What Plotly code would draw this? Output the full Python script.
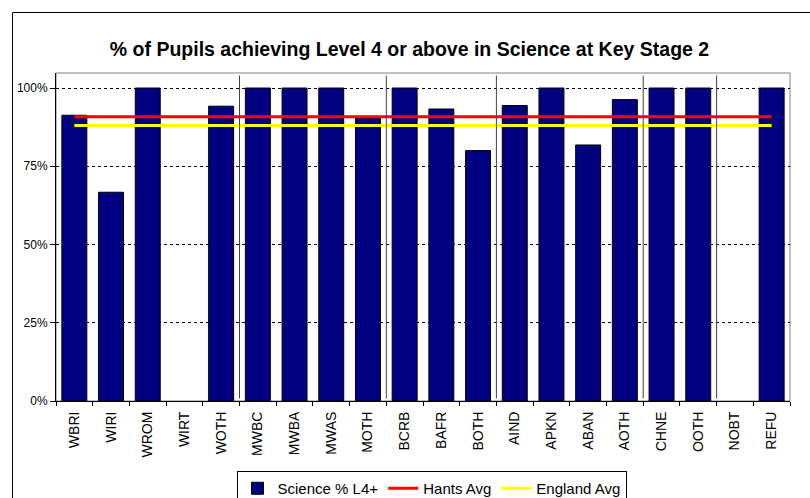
import plotly.graph_objects as go

categories = ["WBRI", "WIRI", "WROM", "WIRT", "WOTH", "MWBC", "MWBA", "MWAS", "MOTH",
              "BCRB", "BAFR", "BOTH", "AIND", "APKN", "ABAN", "AOTH", "CHNE", "OOTH",
              "NOBT", "REFU"]
science = [91.3, 66.7, 100, 0, 94.2, 100, 100, 100, 90.5,
           100, 93.3, 80.0, 94.4, 100, 81.8, 96.3, 100, 100,
           0, 100]
hants_avg = [90.8] * len(categories)
england_avg = [88.0] * len(categories)
group_breaks = [4.5, 8.5, 11.5, 15.5, 17.5]
y_ticks = [0, 25, 50, 75, 100]
y_tick_text = ["0%", "25%", "50%", "75%", "100%"]

FONT = "Liberation Sans, Arial, sans-serif"

fig = go.Figure()
fig.add_trace(go.Bar(
    x=categories, y=science, name="Science % L4+",
    marker=dict(color="#000080",
                line=dict(color="#000000", width=[1 if v > 0 else 0 for v in science])),
))
fig.add_trace(go.Scatter(
    x=categories, y=hants_avg, name="Hants Avg", mode="lines",
    line=dict(color="#FF0000", width=3),
))
fig.add_trace(go.Scatter(
    x=categories, y=england_avg, name="England Avg", mode="lines",
    line=dict(color="#FFFF00", width=3),
))

L, R, T, B = 56, 20, 73, 97
PW, PH = 810 - L - R, 498 - T - B

shapes = []
for b in group_breaks:
    shapes.append(dict(type="line", xref="x", yref="y", x0=b, x1=b, y0=0.8, y1=104,
                       line=dict(color="#404040", width=1), layer="above"))
# outer chart frame
shapes.append(dict(type="rect", xref="paper", yref="paper",
                   x0=(12.5 - L) / PW, x1=(815 - L) / PW,
                   y0=(498 - B - 505) / PH, y1=(498 - B - 12.5) / PH,
                   line=dict(color="#000000", width=1), layer="below"))
# grey plot area border
shapes.append(dict(type="rect", xref="paper", yref="paper", x0=0, x1=1, y0=0, y1=1,
                   line=dict(color="#808080", width=1), layer="below"))

fig.update_layout(
    width=810, height=498,
    margin=dict(l=L, r=R, t=T, b=B, autoexpand=False),
    paper_bgcolor="white", plot_bgcolor="white",
    font=dict(family=FONT, color="#000000", size=12),
    title=dict(text="<b>% of Pupils achieving Level 4 or above in Science at Key Stage 2</b>",
               x=409.5 / 810, xanchor="center", y=1 - 49 / 498, yanchor="middle",
               font=dict(size=19.5, family=FONT)),
    bargap=0.32,
    showlegend=True,
    legend=dict(orientation="h", x=(431.5 - L) / PW, xanchor="center",
                y=(498 - B - 471) / PH, yanchor="top",
                bordercolor="#000000", borderwidth=1, bgcolor="white",
                font=dict(size=15, family=FONT), traceorder="normal",
                itemwidth=30, tracegroupgap=0),
    shapes=shapes,
)
fig.update_xaxes(
    type="category", tickangle=-90, tickson="boundaries", ticks="outside", ticklen=4,
    tickcolor="#000000", showline=True, linecolor="#000000", linewidth=1,
    mirror=False, showgrid=False, tickfont=dict(size=14, family=FONT),
    ticklabelstandoff=4,
)
fig.update_yaxes(
    range=[0, 104.8], tickvals=y_ticks, ticktext=y_tick_text, ticks="outside", ticklen=5,
    tickcolor="#000000", showline=True, linecolor="#000000", linewidth=1,
    showgrid=True, gridcolor="#000000", griddash="dot", gridwidth=1,
    zeroline=False, tickfont=dict(size=12, family=FONT),
)

fig.write_html(
    "out.html",
    config={"displayModeBar": False},
    post_script="document.body.style.margin='0';document.body.style.overflow='hidden';",
)
